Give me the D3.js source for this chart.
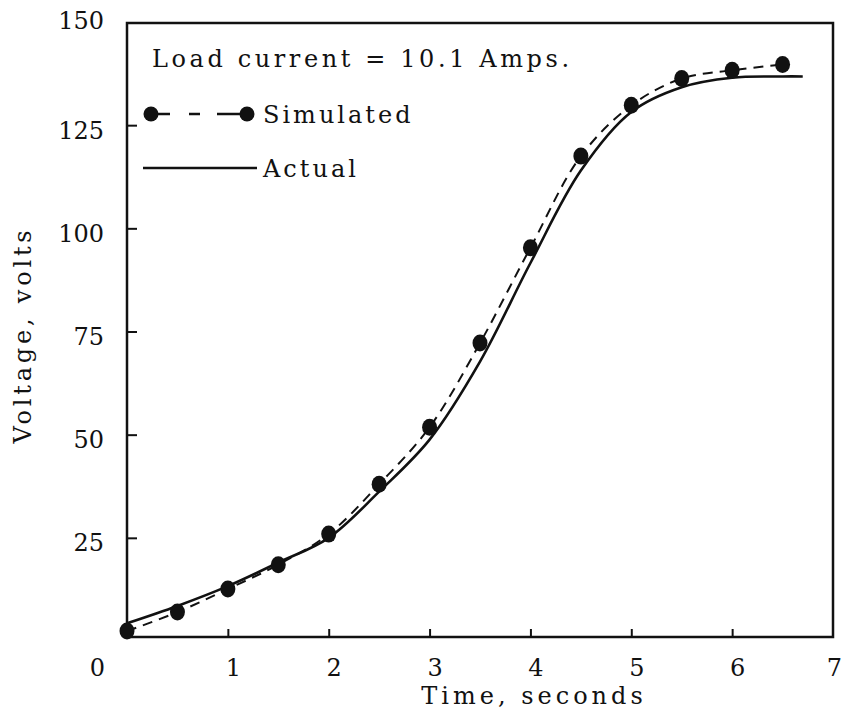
<!DOCTYPE html>
<html>
<head>
<meta charset="utf-8">
<script src="https://cdn.jsdelivr.net/npm/d3@7"></script>
<style>
  body { margin: 0; background: #fff; }
  svg text { font-family: "DejaVu Serif", serif; fill: #111; }
</style>
</head>
<body>
<div id="chart"></div>
<script>
let w = 843;
let h = 721;

// data
let simTimes = [0, 0.5, 1, 1.5, 2, 2.5, 3, 3.5, 4, 4.5, 5, 5.5, 6, 6.5];
let simVolts = [2.4, 7.0, 12.6, 18.5, 25.9, 38.0, 51.8, 72.2, 95.3, 117.5, 129.8, 136.3, 138.3, 139.7];
let actTimes = [0, 0.5, 1, 1.5, 2, 2.5, 3, 3.5, 4, 4.5, 5, 5.5, 6, 6.5, 6.7];
let actVolts = [4.3, 8.5, 13.3, 19.0, 25.0, 36.2, 48.8, 67.7, 91.6, 114, 128.2, 134.2, 136.5, 136.8, 136.8];
let xTicks = [0, 1, 2, 3, 4, 5, 6, 7];
let yTicks = [25, 50, 75, 100, 125, 150];

let plotLeft = 127, plotRight = 833, plotTop = 23, plotBottom = 637;

let svg = d3.select("#chart").append("svg")
  .attr("width", w)
  .attr("height", h);

let x = d3.scaleLinear().domain([0, 7]).range([plotLeft, plotRight]);
let y = d3.scaleLinear().domain([0, 150]).range([641, 22]);

// frame
svg.append("rect")
  .attr("x", plotLeft).attr("y", plotTop)
  .attr("width", plotRight - plotLeft).attr("height", plotBottom - plotTop)
  .attr("fill", "none")
  .attr("stroke", "#111")
  .attr("stroke-width", 2.5);

// y axis (ticks point inward)
let yAxis = svg.append("g")
  .attr("transform", "translate(" + plotLeft + ",0)")
  .call(d3.axisLeft(y).tickValues(yTicks).tickSize(-10).tickPadding(23).tickFormat(d3.format("d")));
yAxis.select(".domain").remove();
yAxis.selectAll("line").attr("stroke", "#111").attr("stroke-width", 2);
yAxis.selectAll(".tick").filter(d => d == 150).select("line").remove();
yAxis.selectAll("text")
  .attr("font-size", 24)
  .attr("font-family", "DejaVu Serif")
  .attr("fill", "#111")
  .attr("dy", d => d == 150 ? "0.25em" : "0.54em");

// x axis
let xAxis = svg.append("g")
  .attr("transform", "translate(0," + plotBottom + ")")
  .call(d3.axisBottom(x).tickValues(xTicks).tickSize(-8).tickPadding(22).tickFormat(d3.format("d")));
xAxis.select(".domain").remove();
xAxis.selectAll("line").attr("stroke", "#111").attr("stroke-width", 2);
xAxis.selectAll(".tick").filter(d => d == 0 || d == 7).select("line").remove();
xAxis.selectAll("text")
  .attr("font-size", 24)
  .attr("font-family", "DejaVu Serif")
  .attr("fill", "#111")
  .attr("x", d => d == 0 ? -30 : (d == 7 ? 1 : 5));

// axis titles
svg.append("text")
  .attr("x", 534).attr("y", 704)
  .attr("text-anchor", "middle")
  .attr("font-size", 24)
  .attr("letter-spacing", 4)
  .text("Time,  seconds");

svg.append("text")
  .attr("transform", "translate(31,335) rotate(-90)")
  .attr("text-anchor", "middle")
  .attr("font-size", 24)
  .attr("letter-spacing", 3.8)
  .text("Voltage,  volts");

// curves
let actData = actTimes.map((t, i) => [t, actVolts[i]]);
let simData = simTimes.map((t, i) => [t, simVolts[i]]);

let line = d3.line()
  .x(d => x(d[0]))
  .y(d => y(d[1]))
  .curve(d3.curveCatmullRom.alpha(0.5));

svg.append("path")
  .attr("d", line(actData))
  .attr("fill", "none")
  .attr("stroke", "#111")
  .attr("stroke-width", 2.6);

svg.append("path")
  .attr("d", line(simData))
  .attr("fill", "none")
  .attr("stroke", "#111")
  .attr("stroke-width", 2)
  .attr("stroke-dasharray", "10,7");

svg.selectAll(".dot").data(simData).enter()
  .append("ellipse")
  .attr("class", "dot")
  .attr("cx", d => x(d[0]))
  .attr("cy", d => y(d[1]))
  .attr("rx", 7.5)
  .attr("ry", 8.5)
  .attr("fill", "#111");

// legend
svg.append("text")
  .attr("x", 152).attr("y", 67)
  .attr("font-size", 24)
  .attr("letter-spacing", 3.6)
  .text("Load current = 10.1 Amps.");

svg.append("line")
  .attr("x1", 151).attr("x2", 247)
  .attr("y1", 114).attr("y2", 114)
  .attr("stroke", "#111")
  .attr("stroke-width", 2.5)
  .attr("stroke-dasharray", "19,19,11,17,40");
svg.selectAll(".legdot").data([151, 247]).enter()
  .append("circle")
  .attr("cx", d => d).attr("cy", 114)
  .attr("r", 7.5)
  .attr("fill", "#111");
svg.append("text")
  .attr("x", 263).attr("y", 123)
  .attr("font-size", 24)
  .attr("letter-spacing", 3)
  .text("Simulated");

svg.append("line")
  .attr("x1", 143).attr("x2", 257)
  .attr("y1", 168).attr("y2", 168)
  .attr("stroke", "#111")
  .attr("stroke-width", 2.5);
svg.append("text")
  .attr("x", 263).attr("y", 177)
  .attr("font-size", 24)
  .attr("letter-spacing", 3)
  .text("Actual");
</script>
</body>
</html>
